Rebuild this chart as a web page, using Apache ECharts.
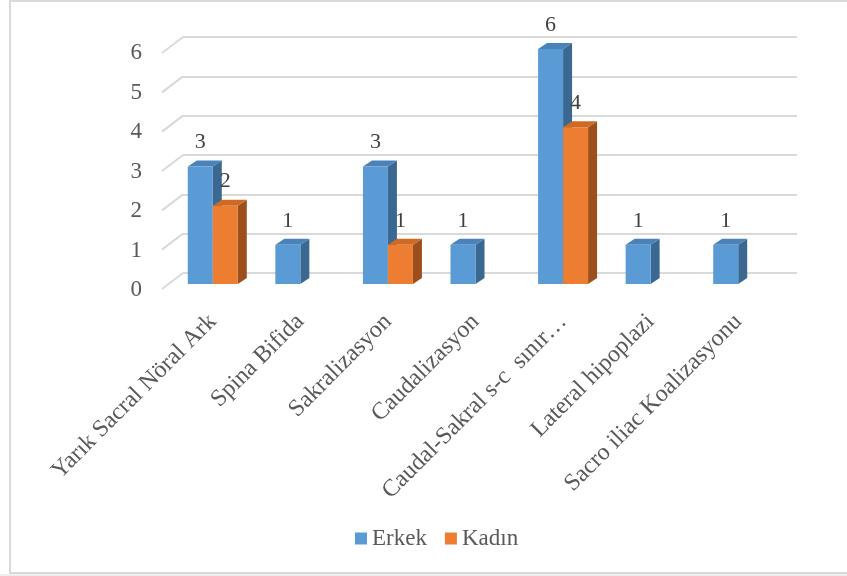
<!DOCTYPE html>
<html>
<head>
<meta charset="utf-8">
<title>Erkek / Kadın</title>
<script src="https://cdn.jsdelivr.net/npm/echarts@6/dist/echarts.min.js"></script>
<style>
    body { margin: 0; background: #fff; overflow: hidden; }
    #chart { position: absolute; left: 0; top: 0; width: 847px; height: 576px; }
    /* outer chart frame */
    .frame { position: absolute; left: 9px; top: 0; width: 850px; height: 570px;
             border: 2px solid #d9d9d9; pointer-events: none; }
    .shade { position: absolute; left: 0; top: 574px; width: 847px; height: 2px; background: #eeeeee; }
</style>
</head>
<body>
<div id="chart"></div>
<div class="frame"></div>
<div class="shade"></div>
<script>
    // data
    var categories = ['Yarık Sacral Nöral Ark', 'Spina Bifida', 'Sakralizasyon', 'Caudalizasyon',
        'Caudal-Sakral s-c  sınır…', 'Lateral hipoplazi', 'Sacro iliac Koalizasyonu'];
    var erkek = [3, 1, 3, 1, 6, 1, 1];
    var kadin = [2, 0, 1, 0, 4, 0, 0];
    var yTicks = [0, 1, 2, 3, 4, 5, 6];

    var FONT = "'Liberation Serif', 'Times New Roman', serif";
    var BAR_W = 25;

    // side + top faces of a pseudo 3d column
    function depthRender(offset, sideColor, topColor) {
        return function (params, api) {
            var v = api.value(1);
            if (!v) return null;
            var top = api.coord([api.value(0), v]);
            var base = api.coord([api.value(0), 0]);
            var dx = 9, dy = 6;
            var l = top[0] + offset, r = l + BAR_W;
            return {
                type: 'group',
                children: [{
                    type: 'polygon',
                    shape: { points: [[r, top[1]], [r + dx, top[1] - dy], [r + dx, base[1] - dy], [r, base[1]]] },
                    style: { fill: sideColor }
                }, {
                    type: 'polygon',
                    shape: { points: [[l, top[1]], [l + dx, top[1] - dy], [r + dx, top[1] - dy], [r, top[1]]] },
                    style: { fill: topColor }
                }]
            };
        };
    }

    function pairs(arr) {
        return arr.map(function (v, i) { return [i, v]; });
    }

    var barLabel = {
        show: true,
        position: 'top',
        distance: 13,
        fontSize: 22,
        fontFamily: FONT,
        color: '#404040',
        formatter: function (p) { return p.value ? p.value : ''; }
    };

    var myChart = echarts.init(document.getElementById('chart'));
    var option = {
        animation: false,
        textStyle: { fontFamily: FONT },
        grid: [
            // bars (front)
            { left: 169, right: 65, top: 49, bottom: 292 },
            // back wall gridlines
            { left: 183, right: 50, top: 37, bottom: 303 },
            // y labels
            { left: 162, right: 50, top: 53, bottom: 286 }
        ],
        xAxis: [{
            type: 'category',
            gridIndex: 0,
            data: categories,
            axisLine: { show: false },
            axisTick: { show: false },
            axisLabel: {
                interval: 0,
                rotate: 45,
                margin: 34,
                fontSize: 24,
                fontFamily: FONT,
                color: '#595959'
            }
        }, {
            type: 'value', gridIndex: 1, min: 0, max: 1, show: false
        }, {
            type: 'value', gridIndex: 2, min: 0, max: 1, show: false
        }],
        yAxis: [{
            type: 'value', gridIndex: 0, min: 0, max: 6, interval: 1, show: false
        }, {
            type: 'value', gridIndex: 1, min: 0, max: 6, interval: 1,
            axisLine: { show: false },
            axisTick: { show: false },
            axisLabel: { show: false },
            splitLine: { lineStyle: { color: '#d9d9d9', width: 2 } }
        }, {
            type: 'value', gridIndex: 2, min: 0, max: 6, interval: 1,
            axisLine: { show: false },
            axisTick: { show: false },
            splitLine: { show: false },
            axisLabel: { margin: 20, fontSize: 23, fontFamily: FONT, color: '#595959' }
        }],
        legend: {
            data: ['Erkek', 'Kadın'],
            left: 350,
            top: 522,
            icon: 'rect',
            itemWidth: 12,
            itemHeight: 12,
            itemGap: 18,
            textStyle: { fontSize: 23, fontFamily: FONT, color: '#595959' }
        },
        series: [{
            // left wall diagonals of the gridlines
            type: 'custom',
            name: 'wall',
            xAxisIndex: 1,
            yAxisIndex: 1,
            silent: true,
            z: 1,
            data: yTicks.map(function (v) { return [0, v]; }),
            renderItem: function (params, api) {
                var p = api.coord([0, api.value(1)]);
                return {
                    type: 'line',
                    shape: { x1: p[0] - 21, y1: p[1] + 16, x2: p[0], y2: p[1] },
                    style: { stroke: '#d9d9d9', lineWidth: 2 }
                };
            }
        }, {
            type: 'custom',
            name: 'erkek3d',
            xAxisIndex: 0,
            yAxisIndex: 0,
            silent: true,
            z: 1,
            data: pairs(erkek),
            renderItem: depthRender(-BAR_W, '#3b6891', '#4a82ba')
        }, {
            type: 'custom',
            name: 'kadin3d',
            xAxisIndex: 0,
            yAxisIndex: 0,
            silent: true,
            z: 1,
            data: pairs(kadin),
            renderItem: depthRender(0, '#9c4f1c', '#cf6a24')
        }, {
            type: 'bar',
            name: 'Erkek',
            xAxisIndex: 0,
            yAxisIndex: 0,
            barWidth: BAR_W,
            barGap: '0%',
            z: 2,
            itemStyle: { color: '#5b9bd5' },
            label: barLabel,
            data: erkek
        }, {
            type: 'bar',
            name: 'Kadın',
            xAxisIndex: 0,
            yAxisIndex: 0,
            barWidth: BAR_W,
            barGap: '0%',
            z: 2,
            itemStyle: { color: '#ed7d31' },
            label: barLabel,
            data: kadin
        }]
    };
    myChart.setOption(option);
</script>
</body>
</html>
